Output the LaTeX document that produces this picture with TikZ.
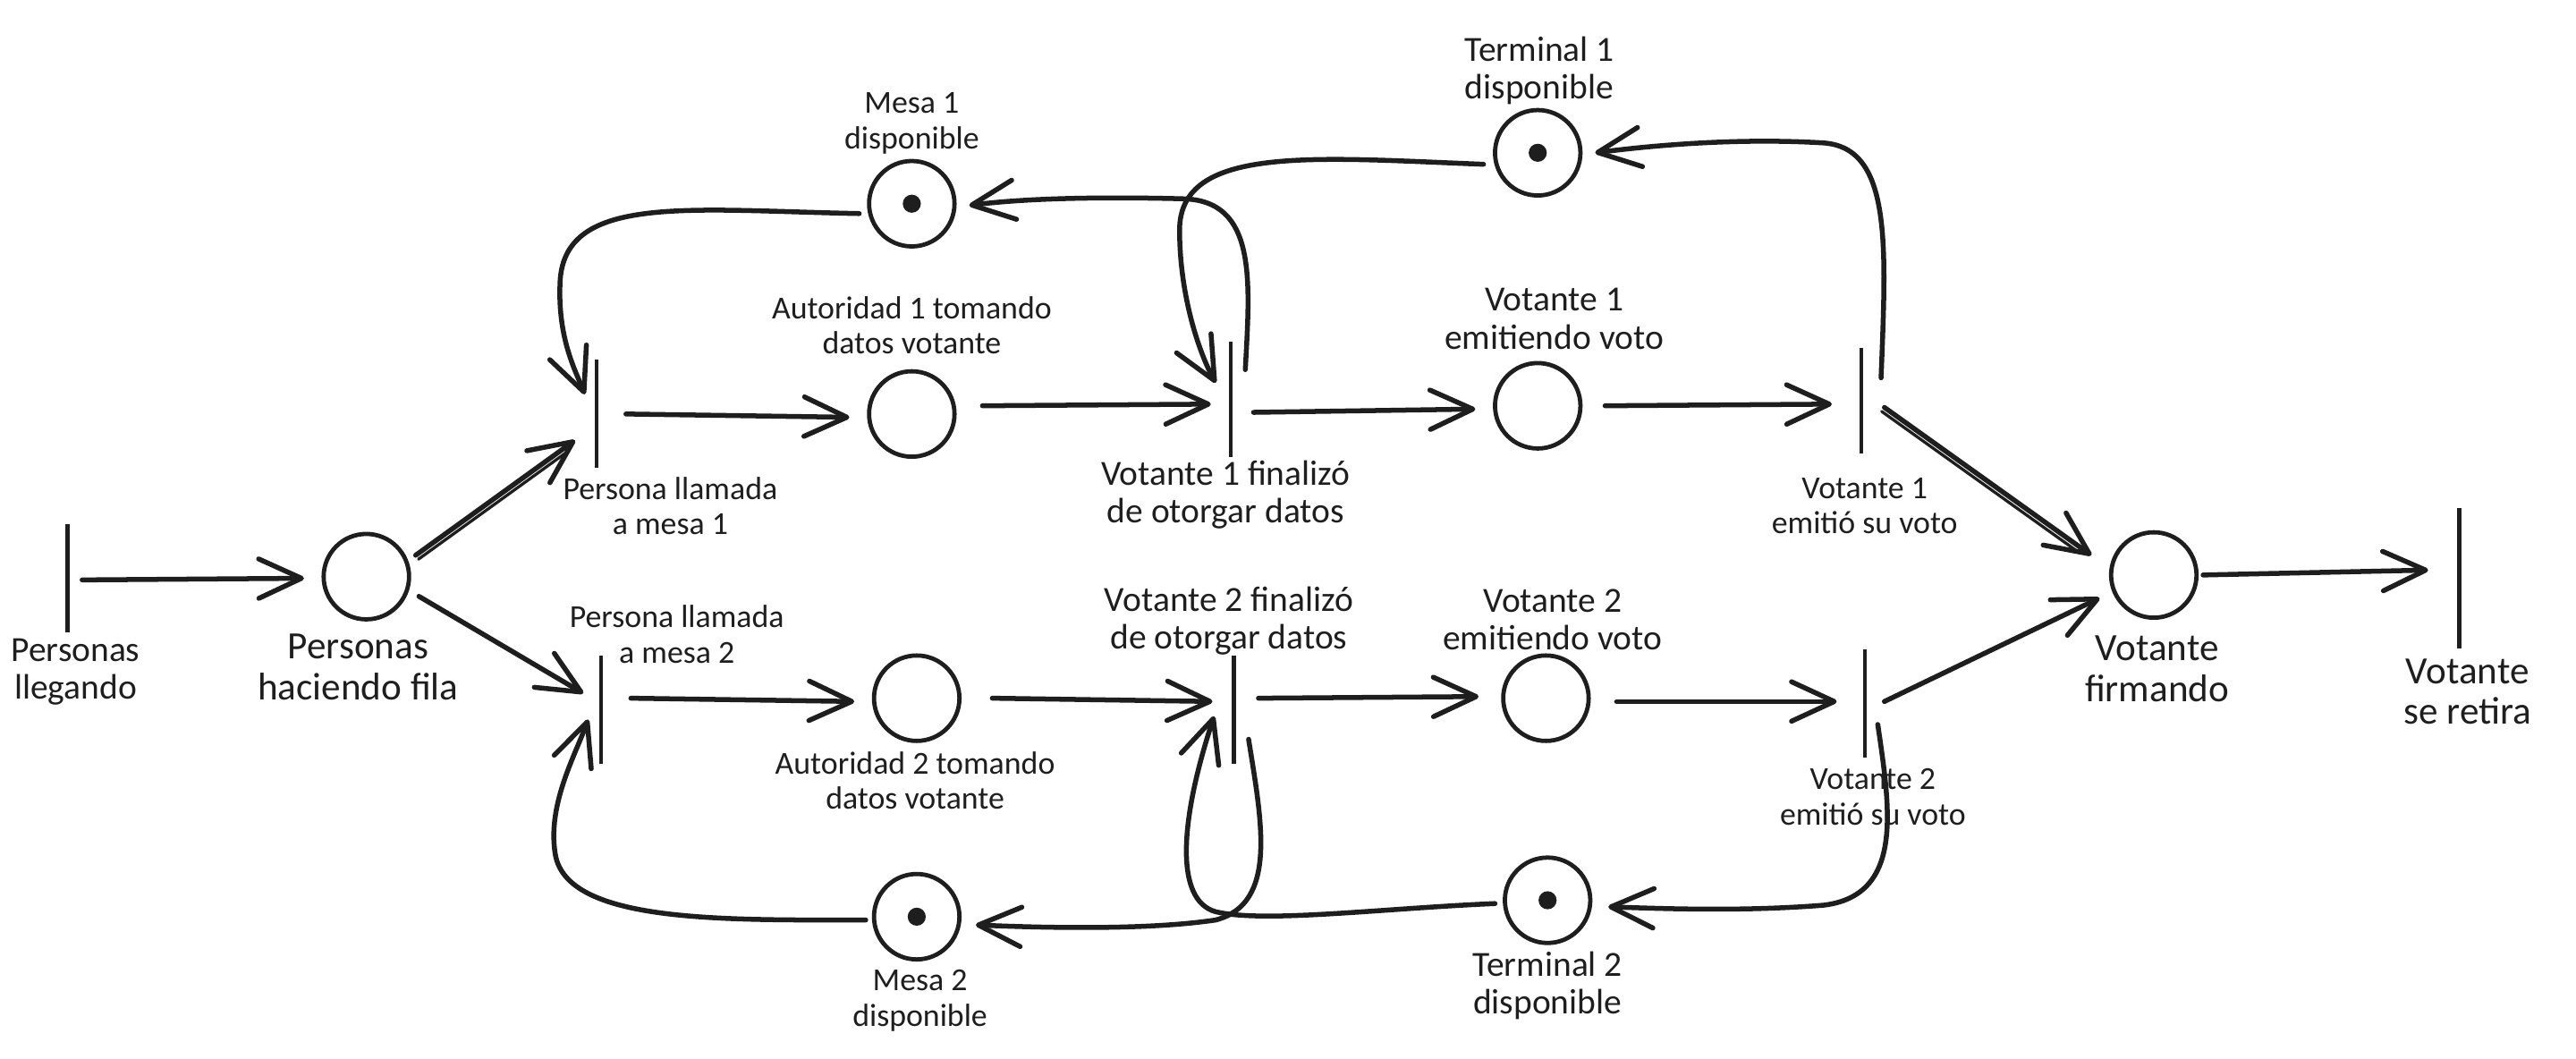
\documentclass[tikz,border=0pt]{standalone}
\usepackage{fontspec}
\setmainfont{Carlito}
\usetikzlibrary{arrows.meta,calc}
\definecolor{ink}{HTML}{1E1E1E}
\newcommand\myfS{\fontsize{19.5}{21.5}\selectfont}
\newcommand\myfM{\fontsize{21.5}{23}\selectfont}
\newcommand\myfL{\fontsize{23.5}{25}\selectfont}
\begin{document}
\begin{tikzpicture}[x=1pt,y=-1pt,
  place/.style={circle,draw=ink,line width=2.6pt,minimum size=52pt,inner sep=0pt},
  marked/.style={place,path picture={\fill[ink] (path picture bounding box.center) circle (5.5pt);}},
  trans/.style={rectangle,minimum width=20pt,minimum height=#1,inner sep=0pt,
    path picture={\draw[ink,line width=2.4pt] (path picture bounding box.north) -- (path picture bounding box.south);}},
  arr/.style={draw=ink,line width=3pt,line cap=round,-{Straight Barb[length=26pt,width=24pt,round]}},
  thin/.style={draw=ink,line width=1.8pt,line cap=round},
  lblS/.style={align=center,inner sep=0pt,text=ink,font=\myfS},
  lblM/.style={align=center,inner sep=0pt,text=ink,font=\myfM},
  lblL/.style={align=center,inner sep=0pt,text=ink,font=\myfL}]
\useasboundingbox[fill=white] (0,0) rectangle (1568,644.6);

% transitions
\node[trans=66pt] (T0) at (41,352) {};
\node[trans=66pt] (T1) at (363,252) {};
\node[trans=66pt] (T2) at (366,432) {};
\node[trans=70pt] (T3) at (749,243) {};
\node[trans=66pt] (T7) at (751,432) {};
\node[trans=64pt] (T4) at (1133,244) {};
\node[trans=66pt] (T8) at (1135,428) {};
\node[trans=85pt] (T9) at (1497,352) {};

% places
\node[place] (P0) at (223,351) {};
\node[place] (P1) at (555,252) {};
\node[place] (P2) at (936,247) {};
\node[marked] (P3) at (555,124) {};
\node[marked] (P4) at (936,93) {};
\node[place] (P5) at (1311,350) {};
\node[marked] (P6) at (558,558) {};
\node[place] (P7) at (558,425) {};
\node[place] (P8) at (941,425) {};
\node[marked] (P9) at (942,548) {};

% labels
\node[lblM] (L0) at (46,409) {Personas\\llegando};
\node[lblL] (LP0) at (218,406) {Personas\\haciendo fila};
\node[lblS] (LT1) at (408,308) {Persona llamada\\a mesa 1};
\node[lblS] (LT2) at (412,386) {Persona llamada\\a mesa 2};
\node[lblS] (LP1) at (555,198) {Autoridad 1 tomando\\datos votante};
\node[lblS] (LP7) at (557,475) {Autoridad 2 tomando\\datos votante};
\node[lblS] (LP3) at (555,75) {Mesa 1\\disponible};
\node[lblS] (LP6) at (560,609) {Mesa 2\\disponible};
\node[lblM] (LT3) at (746,301) {Votante 1 finalizó\\de otorgar datos};
\node[lblM] (LT7) at (748,378) {Votante 2 finalizó\\de otorgar datos};
\node[lblM] (LP2) at (946,194) {Votante 1\\emitiendo voto};
\node[lblM] (LP8) at (945,377) {Votante 2\\emitiendo voto};
\node[lblM] (LP4) at (937,43) {Terminal 1\\disponible};
\node[lblM] (LP9) at (942,600) {Terminal 2\\disponible};
\node[lblS] (LT4) at (1135,308) {Votante 1\\emitió su voto};
\node[lblS] (LT8) at (1140,485) {Votante 2\\emitió su voto};
\node[lblL] (LP5) at (1313,407) {Votante\\firmando};
\node[lblL] (LT9) at (1502,421) {Votante\\se retira};

% straight arcs
\draw[arr] ($(T0)+(9,1)$) -- ($(P0)+(-38,1)$);
\draw[arr] ($(T1)+(18,0)$) -- ($(P1)+(-38,2)$);
\draw[arr] ($(P1)+(43,-5)$) -- ($(T3)+(-12,3)$);
\draw[arr] ($(T3)+(14,8)$) -- ($(P2)+(-38,2)$);
\draw[arr] ($(P2)+(41,0)$) -- ($(T4)+(-18,2)$);
\draw[arr] ($(T2)+(18,-7)$) -- ($(P7)+(-38,2)$);
\draw[arr] ($(P7)+(46,0)$) -- ($(T7)+(-13,-5)$);
\draw[arr] ($(T7)+(15,-7)$) -- ($(P8)+(-41,-1)$);
\draw[arr] ($(P8)+(43,2)$) -- ($(T8)+(-17,-1)$);
\draw[arr] ($(P5)+(30,0)$) -- ($(T9)+(-19,-5)$);

% diagonal arcs
\draw[arr] ($(P0)+(30,-13)$) -- ($(T1)+(-13,16)$);
\draw[thin] ($(P0)+(31.7,-10.6)$) -- ($(T1)+(-17.7,23)$);
\draw[arr] ($(P0)+(32,12)$) -- ($(T2)+(-11,-10)$);
\draw[arr] ($(T4)+(14,4)$) -- ($(P5)+(-38,-12)$);
\draw[thin] ($(T4)+(12.3,6.4)$) -- ($(P5)+(-46,-14)$);
\draw[arr] ($(T8)+(12,-1)$) -- ($(P5)+(-33,14)$);

% resource loops, top
\draw[arr] ($(P3)+(-32,6)$) .. controls (420,128) and (345,118) .. (341,170)
  .. controls (339,205) and (350,225) .. ($(T1)+(-7,-12)$);
\draw[arr] ($(T3)+(9,-18)$) .. controls (761,170) and (765,122) .. (720,121)
  .. controls (680,120) and (630,120) .. ($(P3)+(35,1)$);
\draw[arr] ($(P4)+(-33,7)$) .. controls (800,96) and (718,88) .. (718,140)
  .. controls (718,180) and (730,215) .. ($(T3)+(-9,-10)$);
\draw[arr] ($(T4)+(12,-14)$) .. controls (1148,150) and (1152,90) .. (1110,87)
  .. controls (1060,84) and (1010,88) .. ($(P4)+(35,0)$);

% resource loops, bottom
\draw[arr] ($(P6)+(-31,2)$) .. controls (440,560) and (345,562) .. (338,520)
  .. controls (333,490) and (350,460) .. ($(T2)+(-8,6)$);
\draw[arr] ($(T7)+(9,18)$) .. controls (768,500) and (778,550) .. (740,560)
  .. controls (700,566) and (640,565) .. ($(P6)+(36,5)$);
\draw[arr] ($(P9)+(-32,2)$) .. controls (840,553) and (770,562) .. (740,555)
  .. controls (715,548) and (718,500) .. ($(T7)+(-12,4)$);
\draw[arr] ($(T8)+(8,13)$) .. controls (1150,490) and (1160,545) .. (1110,551)
  .. controls (1060,555) and (1010,553) .. ($(P9)+(37,4)$);
\end{tikzpicture}
\end{document}
